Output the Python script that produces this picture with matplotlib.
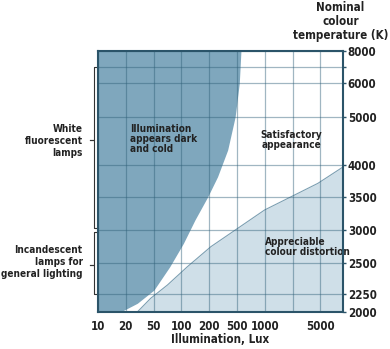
import numpy as np
import matplotlib
matplotlib.use("Agg")
import matplotlib.pyplot as plt

# ---------------- data ----------------
x_ticks = [10, 20, 50, 100, 200, 500, 1000, 2000, 5000, 10000]
x_labels = ['10', '20', '50', '100', '200', '500', '1000', '', '5000']
y_ticks = [2000, 2250, 2500, 3000, 3500, 4000, 5000, 6000, 7000, 8000]
y_labels = ['2000', '2250', '2500', '3000', '3500', '4000', '5000', '6000', '', '8000']

# boundary of "appears dark and cold" region (lux, K)
dark_lux = [17.5, 29.2, 50.4, 74.7, 105, 140, 192, 263, 367, 469, 529, 551]
dark_temp = [2000, 2121, 2282, 2470, 2798, 3152, 3500, 3817, 4313, 5000, 6000, 8000]

# boundary of "appreciable colour distortion" region (lux, K)
dist_lux = [29.2, 45.4, 70.7, 116, 211, 510, 993, 1931, 4603, 8770]
dist_temp = [2000, 2190, 2323, 2470, 2747, 3026, 3303, 3505, 3714, 3969]

# ---------------- schematic scales ----------------
x_idx = np.arange(len(x_ticks), dtype=float)
x_log = np.log10(x_ticks)
y_pos = [0, 0.0690, 0.1877, 0.3142, 0.4406, 0.5632, 0.7471, 0.8774, 0.9387, 1.0]

def xf(v):
    v = np.asarray(v, dtype=float)
    return np.interp(np.log10(np.clip(v, 1e-9, None)), x_log, x_idx)

def xi(v):
    return 10 ** np.interp(np.asarray(v, dtype=float), x_idx, x_log)

def yf(v):
    return np.interp(np.asarray(v, dtype=float), y_ticks, y_pos)

def yi(v):
    return np.interp(np.asarray(v, dtype=float), y_pos, y_ticks)

STRETCH = 'condensed'
plt.rcParams['font.family'] = ['DejaVu Sans']
plt.rcParams['font.stretch'] = STRETCH
TXT = '#222222'
EDGE = '#2b5469'
FW = 'bold'

fig = plt.figure(figsize=(3.9, 3.49), dpi=100)
ax = fig.add_axes([98 / 390, 1 - 312 / 349, 245 / 390, 261 / 349])
ax.set_xscale('function', functions=(xf, xi))
ax.set_yscale('function', functions=(yf, yi))
ax.set_xlim(10, 8770)
ax.set_ylim(2000, 8000)

# regions
ax.fill_betweenx(dark_temp, 10, dark_lux, color='#7fa7bd', lw=0, zorder=1)
ax.fill_between(dist_lux, 2000, dist_temp, color='#cfdfe8', lw=0, zorder=1)
ax.plot(dist_lux, dist_temp, color='#7c9fb2', lw=0.8, zorder=2)

# grid
ax.set_xticks(x_ticks[:-1])
ax.set_xticklabels(x_labels)
ax.set_yticks(y_ticks)
ax.set_yticklabels(y_labels)
ax.minorticks_off()
ax.set_axisbelow(False)
ax.grid(True, color='#2e5f78', alpha=0.45, lw=0.9, zorder=3)

ax.yaxis.tick_right()
ax.tick_params(axis='y', length=2, width=1, color=EDGE, pad=1.5,
               labelsize=8.3, labelcolor=TXT)
ax.tick_params(axis='x', length=0, pad=6, labelsize=8.3, labelcolor=TXT)
for lab in ax.get_xticklabels() + ax.get_yticklabels():
    lab.set_fontweight(FW)
    lab.set_fontstretch(STRETCH)
for s in ax.spines.values():
    s.set_color(EDGE)
    s.set_linewidth(1.5)
    s.set_zorder(4)

kw = dict(color=TXT, fontweight=FW, fontstretch=STRETCH)
# in-plot texts
ax.text(0.131, 0.663, 'Illumination\nappears dark\nand cold', transform=ax.transAxes,
        ha='left', va='center', fontsize=7.2, linespacing=1.05, **kw)
ax.text(0.788, 0.659, 'Satisfactory\nappearance', transform=ax.transAxes,
        ha='center', va='center', fontsize=7.2, linespacing=1.05, **kw)
ax.text(0.682, 0.249, 'Appreciable\ncolour distortion', transform=ax.transAxes,
        ha='left', va='center', fontsize=7.2, linespacing=1.05, **kw)

# outside labels
fig.text(0.873, 0.938, 'Nominal\ncolour\ntemperature (K)', ha='center', va='center',
         fontsize=8.3, linespacing=1.1, **kw)
fig.text(0.564, 0.026, 'Illumination, Lux', ha='center', va='center',
         fontsize=8.3, **kw)
fig.text(0.212, 0.596, 'White\nfluorescent\nlamps', ha='right', va='center',
         fontsize=7.2, linespacing=1.25, **kw)
fig.text(0.212, 0.249, 'Incandescent\nlamps for\ngeneral lighting', ha='right', va='center',
         fontsize=7.2, linespacing=1.25, **kw)

# braces
tr = ax.get_yaxis_transform()
def brace(top, mid, bot):
    xs = [-0.002, -0.016, -0.016, -0.034, -0.016, -0.016, -0.002]
    ys = [top, top, mid, mid, mid, bot, bot]
    ax.plot(xs[:4], ys[:4], transform=tr, clip_on=False, color='#333333', lw=0.8)
    ax.plot(xs[3:], ys[3:], transform=tr, clip_on=False, color='#333333', lw=0.8)

brace(7000, 4521, 3030)
brace(2970, 2484, 2250)

fig.savefig('out.png', dpi=100)
